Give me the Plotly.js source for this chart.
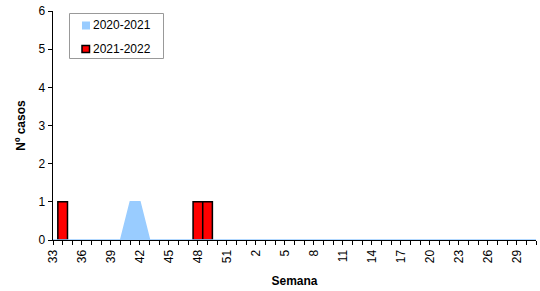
<!DOCTYPE html>
<html>
<head>
<meta charset="utf-8">
<script src="https://cdn.plot.ly/plotly-3.0.1.min.js"></script>
<style>html,body{margin:0;padding:0;background:#fff;}#chart{width:540px;height:291px;}</style>
</head>
<body>
<div id="chart"></div>
<script>
// Weeks (categories), season 33..52 then 1..31
const weeks = [33,34,35,36,37,38,39,40,41,42,43,44,45,46,47,48,49,50,51,52,
               1,2,3,4,5,6,7,8,9,10,11,12,13,14,15,16,17,18,19,20,21,22,23,24,25,26,27,28,29,30,31];
// Cases 2020-2021 (area)
const cases2020 = [0,0,0,0,0,0,0,0,1,1,0,0,0,0,0,0,0,0,0,0,
                   0,0,0,0,0,0,0,0,0,0,0,0,0,0,0,0,0,0,0,0,0,0,0,0,0,0,0,0,0,0,0];
// Cases 2021-2022 (bars)
const cases2021 = [0,1,0,0,0,0,0,0,0,0,0,0,0,0,0,1,1,0,0,0,
                   0,0,0,0,0,0,0,0,0,0,0,0,0,0,0,0,0,0,0,0,0,0,0,0,0,0,0,0,0,0,0];
const labelWeeks = [33,36,39,42,45,48,51,2,5,8,11,14,17,20,23,26,29];
const seriesNames = ['2020-2021','2021-2022'];
const seriesColors = ['#99CCFF','#FF0000'];
const yTitle = 'Nº casos';
const xTitle = 'Semana';

const idx = weeks.map((w,i)=>i);
const ticktext = weeks.map(w => labelWeeks.includes(w) ? String(w) : '');

const font = 'Liberation Sans, Arial, sans-serif';

const W = 540, H = 291;
const M = {l:53, r:4, t:11, b:51};
const pw = W - M.l - M.r, ph = H - M.t - M.b;
const px = v => (v - M.l) / pw;
const py = v => (H - M.b - v) / ph;

const traces = [
  {
    type:'scatter', mode:'lines', name:seriesNames[0], x:idx, y:cases2020,
    fill:'tozeroy', fillcolor:seriesColors[0], line:{color:seriesColors[0], width:1.5},
    hoverinfo:'skip', showlegend:false
  },
  {
    type:'bar', name:seriesNames[1], x:idx, y:cases2021.map(v => v === 0 ? null : v),
    width:1, marker:{color:seriesColors[1], line:{color:'#000000', width:1.5}},
    hoverinfo:'skip', showlegend:false
  }
];

// custom legend (box, swatches, labels)
const shapes = [
  {type:'rect', xref:'paper', yref:'paper', x0:px(69.5), x1:px(163.5), y0:py(58.5), y1:py(13.5),
   line:{color:'#999', width:1}, fillcolor:'#fff', layer:'above'},
  {type:'rect', xref:'paper', yref:'paper', x0:px(82), x1:px(90), y0:py(29.5), y1:py(21.5),
   line:{width:0}, fillcolor:seriesColors[0], layer:'above'},
  {type:'rect', xref:'paper', yref:'paper', x0:px(82), x1:px(89.5), y0:py(52.5), y1:py(45.5),
   line:{color:'#000', width:1.5}, fillcolor:seriesColors[1], layer:'above'}
];
const annotations = [
  {xref:'paper', yref:'paper', x:px(90.5), y:py(25.5), xanchor:'left', yanchor:'middle',
   text:seriesNames[0], showarrow:false, font:{family:font, size:12, color:'#000'}},
  {xref:'paper', yref:'paper', x:px(90.5), y:py(49), xanchor:'left', yanchor:'middle',
   text:seriesNames[1], showarrow:false, font:{family:font, size:12, color:'#000'}}
];

const layout = {
  width:W, height:H,
  margin:M,
  paper_bgcolor:'#fff', plot_bgcolor:'#fff',
  font:{family:font, size:12, color:'#000'},
  showlegend:false,
  shapes:shapes, annotations:annotations,
  xaxis:{
    range:[0, weeks.length-1],
    tickmode:'array', tickvals:idx, ticktext:ticktext,
    tickangle:-90, ticks:'outside', ticklen:4, tickcolor:'#000', tickwidth:1,
    showline:true, linecolor:'#000', linewidth:1,
    showgrid:false, zeroline:false,
    tickfont:{family:font, size:12, color:'#000'},
    title:{text:xTitle, font:{family:font, size:12, color:'#000', weight:'bold'}, standoff:14}
  },
  yaxis:{
    range:[0,6], dtick:1, tick0:0,
    ticks:'outside', ticklen:4, tickcolor:'#000',
    showline:true, linecolor:'#000', linewidth:1.5,
    showgrid:false, zeroline:false,
    tickfont:{family:font, size:12, color:'#000'},
    title:{text:yTitle, font:{family:font, size:12, color:'#000', weight:'bold'}, standoff:10}
  },
  bargap:0
};

Plotly.newPlot('chart', traces, layout, {displayModeBar:false, staticPlot:true});
</script>
</body>
</html>
